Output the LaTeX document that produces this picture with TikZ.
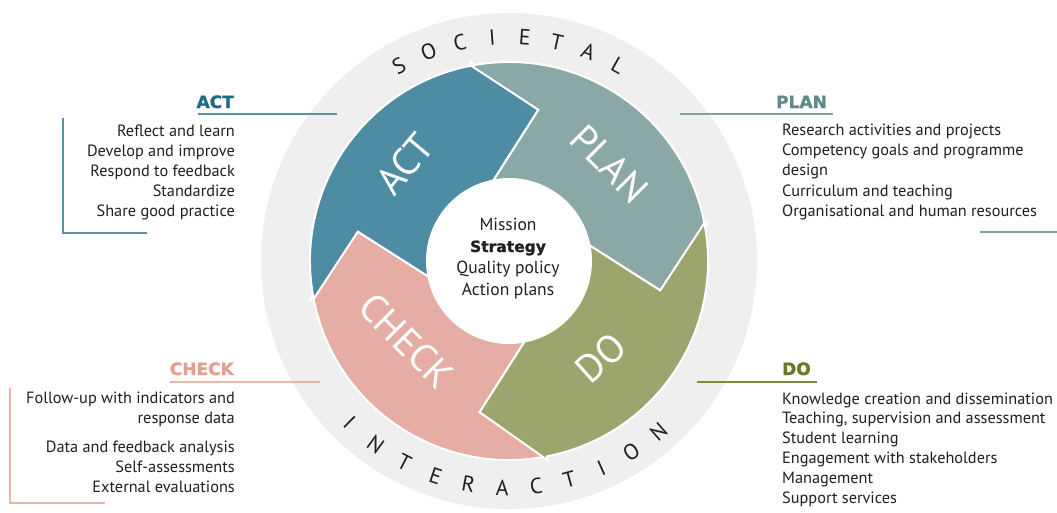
\documentclass[tikz,border=0pt]{standalone}
\usepackage{fontspec}
\setmainfont{PT Sans}
\newfontfamily\heavyfont{DejaVu Sans}[BoldFeatures={FakeBold=1.2}]
\definecolor{actc}{HTML}{4E8CA3}
\definecolor{planc}{HTML}{8AA8A5}
\definecolor{doc}{HTML}{9CA56E}
\definecolor{checkc}{HTML}{E6ADA5}
\definecolor{ringc}{HTML}{EEEFEE}
\definecolor{actt}{HTML}{1D6C84}
\definecolor{plant}{HTML}{5D8B86}
\definecolor{dotit}{HTML}{6B7A22}
\definecolor{checkt}{HTML}{E29F92}
\definecolor{actl}{HTML}{5A93A8}
\definecolor{planl}{HTML}{7FA09C}
\definecolor{dol}{HTML}{7E8B3A}
\definecolor{checkl}{HTML}{EBB5AB}
\definecolor{ink}{HTML}{231F20}
\newcommand\pdcaseg[3]{%
  \filldraw[fill=#1, draw=white, line width=2pt, line join=miter]
    (#2:199) arc[start angle=#2, end angle=#3, radius=199]
    -- (#3:203) -- ({#3-22}:154) -- (#3:82)
    arc[start angle=#3, end angle=#2, radius=82]
    -- ({#2-22}:154) -- cycle;}
\tikzset{
  circletter/.style={font=\fontsize{22}{22}\selectfont, text=ink, inner sep=0pt, anchor=center},
  seglabel/.style={font=\fontsize{39}{39}\selectfont, text=white, inner sep=0pt},
  listitem/.style={font=\fontsize{16.3}{20}\selectfont, text=ink, inner sep=0pt},
  titletext/.style={font=\heavyfont\fontsize{17}{17}\selectfont\bfseries, inner sep=0pt},
  centertext/.style={font=\fontsize{17.5}{20}\selectfont, text=ink, inner sep=0pt, anchor=base},
  sideline/.style={line width=1.5pt}
}
\begin{document}
\begin{tikzpicture}[x=1pt,y=1pt]
\useasboundingbox (0,0) rectangle (1057,-512);
\fill[white] (0,0) rectangle (1057,-512);
\coordinate (c) at (509,-261);
\fill[ringc] (c) circle[radius=248];
\fill[white] (c) circle[radius=83];
\begin{scope}[shift={(509,-261)}]
  \pdcaseg{checkc}{281}{191}
  \pdcaseg{actc}{191}{101}
  \pdcaseg{planc}{101}{11}
  \pdcaseg{doc}{11}{-79}
  % ring lettering
  \foreach \ch [count=\i, evaluate=\i as \a using 119.4-(\i-1)*8.36] in {S,O,C,I,E,T,A,L}
    \node[circletter, rotate=\a-90] (soc\i) at (\a:224) {\ch};
  \foreach \ch [count=\i, evaluate=\i as \a using -134.6+(\i-1)*8.58] in {I,N,T,E,R,A,C,T,I,O,N}
    \node[circletter, rotate=\a+90] (int\i) at (\a:227) {\ch};
  % segment labels
  \node[seglabel, rotate=50] (actlab) at (137:142) {ACT};
  \node[seglabel, rotate=-45] (planlab) at (44:140) {PLAN};
  \node[seglabel, rotate=42] (dolab) at (-46.5:134) {DO};
  \node[seglabel, rotate=-45] (checklab) at (-142:130) {CHECK};
\end{scope}
% centre text
\node[centertext] (mission) at (508,-230) {Mission};
\node[centertext, font=\heavyfont\fontsize{15.5}{20}\selectfont\bfseries] (strategy) at (508,-252) {Strategy};
\node[centertext] (quality) at (508,-273) {Quality policy};
\node[centertext] (actionplans) at (508,-295) {Action plans};
% ACT block
\node[titletext, text=actt, anchor=base east] (acttitle) at (234,-108) {ACT};
\foreach \t [count=\i, evaluate=\i as \yy using -136-(\i-1)*20] in
  {Reflect and learn, Develop and improve, Respond to feedback, Standardize, Share good practice}
  \node[listitem, anchor=base east] (act\i) at (235,\yy) {\t};
\coordinate (actu1) at (198,-114); \coordinate (actu2) at (337,-114);
\coordinate (actb1) at (63,-118); \coordinate (actb2) at (63,-233); \coordinate (actb3) at (147,-233);
\draw[sideline, actl] (actu1) -- (actu2);
\draw[sideline, actl] (actb1) -- (actb2) -- (actb3);
% CHECK block
\node[titletext, text=checkt, anchor=base east] (checktitle) at (234,-375) {CHECK};
\node[listitem, anchor=base east] (check1) at (235,-403) {Follow-up with indicators and};
\node[listitem, anchor=base east] (check2) at (235,-423) {response data};
\node[listitem, anchor=base east] (check3) at (235,-452) {Data and feedback analysis};
\node[listitem, anchor=base east] (check4) at (235,-472) {Self-assessments};
\node[listitem, anchor=base east] (check5) at (235,-492) {External evaluations};
\coordinate (checku1) at (170,-382); \coordinate (checku2) at (320,-382);
\coordinate (checkb1) at (10,-388); \coordinate (checkb2) at (10,-503); \coordinate (checkb3) at (105,-503);
\draw[sideline, checkl] (checku1) -- (checku2);
\draw[sideline, checkl] (checkb1) -- (checkb2) -- (checkb3);
% PLAN block
\node[titletext, text=plant, anchor=base west] (plantitle) at (776,-108) {PLAN};
\foreach \t [count=\i, evaluate=\i as \yy using -135.5-(\i-1)*20.2] in
  {Research activities and projects, Competency goals and programme, design, Curriculum and teaching, Organisational and human resources}
  \node[listitem, anchor=base west] (plan\i) at (782,\yy) {\t};
\coordinate (planu1) at (680,-114); \coordinate (planu2) at (833,-114);
\coordinate (planb1) at (980,-232); \coordinate (planb2) at (1057,-232);
\draw[sideline, planl] (planu1) -- (planu2);
\draw[sideline, planl] (planb1) -- (planb2);
% DO block
\node[titletext, text=dotit, anchor=base west] (dotitle) at (782,-375) {DO};
\foreach \t [count=\i, evaluate=\i as \yy using -404-(\i-1)*19.8] in
  {Knowledge creation and dissemination, {Teaching, supervision and assessment}, Student learning, Engagement with stakeholders, Management, Support services}
  \node[listitem, anchor=base west] (do\i) at (782,\yy) {\t};
\coordinate (dou1) at (697,-382); \coordinate (dou2) at (817,-382);
\draw[sideline, dol] (dou1) -- (dou2);
\end{tikzpicture}
\end{document}
